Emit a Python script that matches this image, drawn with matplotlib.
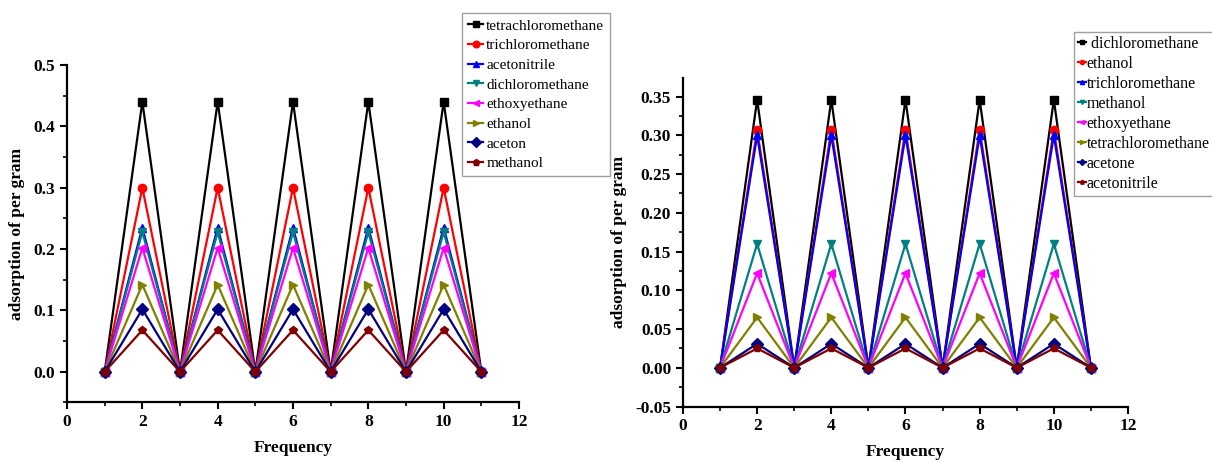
import numpy as np
import matplotlib.pyplot as plt
from matplotlib.ticker import MultipleLocator

plt.rcParams['font.family'] = ['Liberation Serif', 'DejaVu Serif']

# frecuencia (ciclos adsorción / desorción)
freq = [1, 2, 3, 4, 5, 6, 7, 8, 9, 10, 11]

# panel izquierdo: valor del pico en frecuencias pares
names_a = ['tetrachloromethane', 'trichloromethane', 'acetonitrile', 'dichloromethane',
           'ethoxyethane', 'ethanol', 'aceton', 'methanol']
peaks_a = [0.44, 0.30, 0.235, 0.228, 0.202, 0.142, 0.102, 0.068]

# panel derecho
names_b = [' dichloromethane', 'ethanol', 'trichloromethane', 'methanol',
           'ethoxyethane', 'tetrachloromethane', 'acetone', 'acetonitrile']
peaks_b = [0.346, 0.307, 0.300, 0.160, 0.122, 0.065, 0.031, 0.025]

colors = ['black', 'red', 'blue', '#008080', 'magenta', '#808000', '#000080', '#800000']
markers = ['s', 'o', '^', 'v', '<', '>', 'D', 'p']


def series(peak):
    # cero en frecuencias impares, pico en las pares
    return [peak if f % 2 == 0 else 0.0 for f in freq]


def style_axes(ax):
    for s in ['top', 'right']:
        ax.spines[s].set_visible(False)
    for s in ['left', 'bottom']:
        ax.spines[s].set_linewidth(1.6)
    ax.tick_params(which='major', direction='out', length=5, width=1.5, labelsize=12.5)
    ax.tick_params(which='minor', direction='out', length=3, width=1.2)
    for lab in ax.get_xticklabels() + ax.get_yticklabels():
        lab.set_fontweight('bold')
    ax.set_xlim(0, 12)
    ax.xaxis.set_major_locator(MultipleLocator(2))
    ax.xaxis.set_minor_locator(MultipleLocator(1))
    ax.set_xlabel('Frequency', fontsize=12.5, fontweight='bold', labelpad=7)
    ax.set_ylabel('adsorption of per gram', fontsize=12.5, fontweight='bold', labelpad=6)


fig = plt.figure(figsize=(12.12, 4.62), dpi=100)

# --- panel izquierdo ---
ax1 = fig.add_axes([0.0553, 0.1288, 0.3729, 0.7305])
for name, p, c, m in zip(names_a, peaks_a, colors, markers):
    ax1.plot(freq, series(p), color=c, marker=m, markersize=6, linewidth=1.6, label=name)
ax1.set_ylim(-0.05, 0.5)
ax1.yaxis.set_major_locator(MultipleLocator(0.1))
ax1.yaxis.set_minor_locator(MultipleLocator(0.05))
ax1.yaxis.set_major_formatter(plt.FormatStrFormatter('%.1f'))
style_axes(ax1)
ax1.legend(loc='upper left', bbox_to_anchor=(0.381, 0.972), bbox_transform=fig.transFigure,
           fontsize=11, frameon=True, fancybox=False, edgecolor='#888888',
           handlelength=1.0, handletextpad=0.2, labelspacing=0.39, borderpad=0.4,
           borderaxespad=0, markerscale=0.8)

# --- panel derecho ---
ax2 = fig.add_axes([0.5635, 0.1201, 0.3672, 0.7111])
for name, p, c, m in zip(names_b, peaks_b, colors, markers):
    ax2.plot(freq, series(p), color=c, marker=m, markersize=6, linewidth=1.6, label=name)
ax2.set_ylim(-0.05, 0.374)
ax2.yaxis.set_major_locator(MultipleLocator(0.05))
ax2.yaxis.set_minor_locator(MultipleLocator(0.025))
ax2.yaxis.set_major_formatter(plt.FormatStrFormatter('%.2f'))
style_axes(ax2)
ax2.legend(loc='upper left', bbox_to_anchor=(0.886, 0.931), bbox_transform=fig.transFigure,
           fontsize=11.5, frameon=True, fancybox=False, edgecolor='#888888',
           handlelength=0.5, handletextpad=0.05, labelspacing=0.25, borderpad=0.25,
           borderaxespad=0, markerscale=0.5)

fig.savefig('out.png', dpi=100)
